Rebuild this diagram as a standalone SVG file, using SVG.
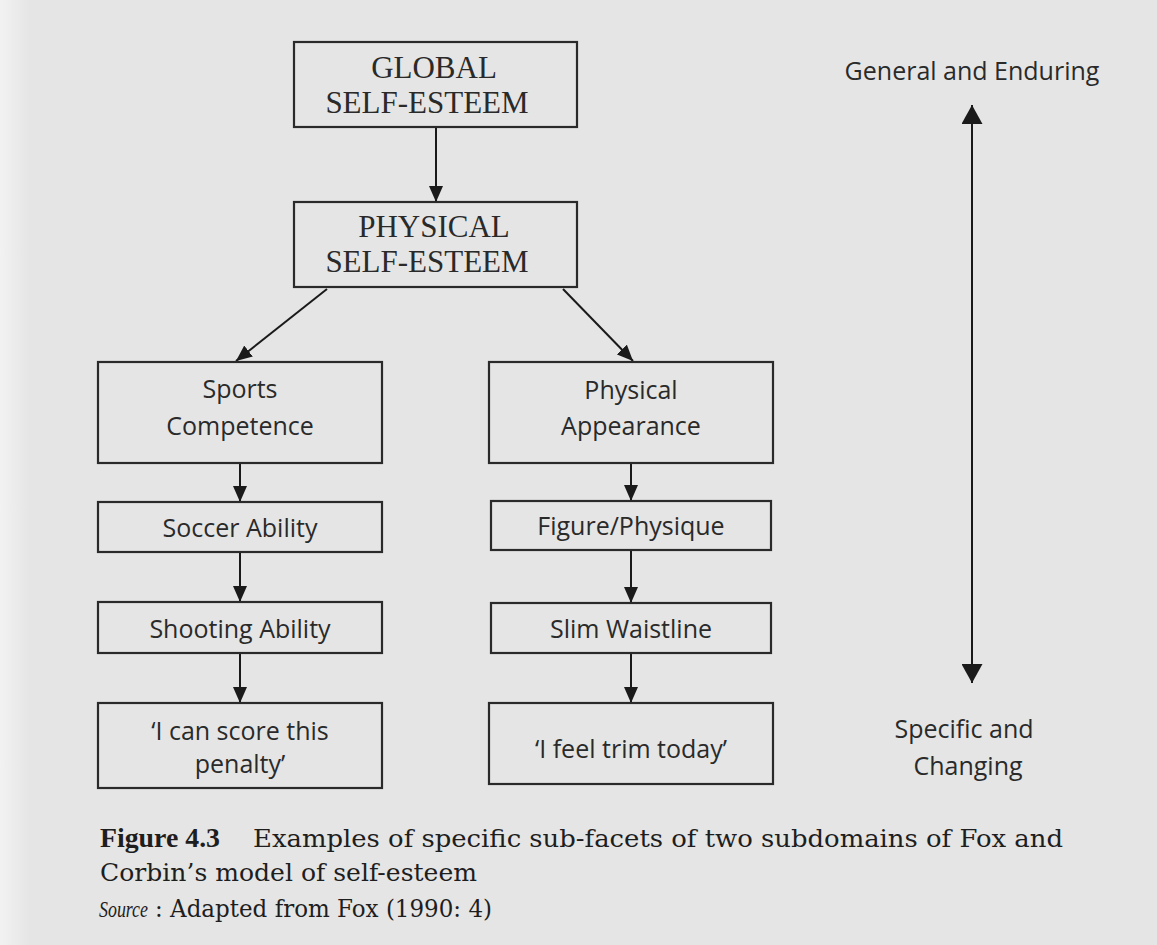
<svg xmlns="http://www.w3.org/2000/svg" width="1157" height="945" viewBox="0 0 1157 945">
<defs>
<marker id="ah" viewBox="0 0 16 14" refX="16" refY="7" markerWidth="16" markerHeight="14" markerUnits="userSpaceOnUse" orient="auto-start-reverse">
<path d="M0,0 L16,7 L0,14 z" fill="#1a1a1a"/>
</marker>
<marker id="big" viewBox="0 0 19 21" refX="19" refY="10.5" markerWidth="19" markerHeight="21" markerUnits="userSpaceOnUse" orient="auto-start-reverse">
<path d="M0,0 L19,10.5 L0,21 z" fill="#1a1a1a"/>
</marker>
<linearGradient id="edge" x1="0" x2="1" y1="0" y2="0">
<stop offset="0" stop-color="#f2f2f2"/>
<stop offset="1" stop-color="#e5e5e5"/>
</linearGradient>
</defs>
<style>
.box{fill:none;stroke:#2a2a2a;stroke-width:2.2}
.ser{font-family:"Liberation Serif","Times New Roman",serif;fill:#2a2a2a;text-anchor:middle;font-size:31px}
.sans{font-family:"Open Sans","Noto Sans",sans-serif;fill:#2a2a2a;text-anchor:middle;font-size:25px}
.con{stroke:#1a1a1a;stroke-width:2;fill:none;marker-end:url(#ah)}
.cap{font-family:"DejaVu Serif","Liberation Serif",serif;fill:#1e1e1e;font-size:25px}
</style>
<rect width="1157" height="945" fill="#e5e5e5"/>
<rect width="30" height="945" fill="url(#edge)"/>
<g id="connectors">
<line class="con" x1="436" y1="127" x2="436" y2="202"/>
<line class="con" x1="327" y1="289" x2="236" y2="361"/>
<line class="con" x1="563" y1="289" x2="633" y2="361"/>
<line class="con" x1="240" y1="463" x2="240" y2="502"/>
<line class="con" x1="240" y1="552" x2="240" y2="602"/>
<line class="con" x1="240" y1="653" x2="240" y2="703"/>
<line class="con" x1="631" y1="463" x2="631" y2="501"/>
<line class="con" x1="631" y1="550" x2="631" y2="603"/>
<line class="con" x1="631" y1="653" x2="631" y2="703"/>
<line x1="972" y1="105" x2="972" y2="683" stroke="#1a1a1a" stroke-width="2" marker-start="url(#big)" marker-end="url(#big)"/>
</g>
<g id="global">
<rect class="box" x="294" y="42" width="283" height="85"/>
<text class="ser" x="434" y="78">GLOBAL</text>
<text class="ser" x="427" y="113">SELF-ESTEEM</text>
</g>
<g id="physical">
<rect class="box" x="294" y="202" width="283" height="85"/>
<text class="ser" x="434" y="237">PHYSICAL</text>
<text class="ser" x="427" y="272">SELF-ESTEEM</text>
</g>
<g id="sports">
<rect class="box" x="98" y="362" width="284" height="101"/>
<text class="sans" x="240" y="398">Sports</text>
<text class="sans" x="240" y="435">Competence</text>
</g>
<g id="soccer">
<rect class="box" x="98" y="502" width="284" height="50"/>
<text class="sans" x="240" y="537">Soccer Ability</text>
</g>
<g id="shooting">
<rect class="box" x="98" y="602" width="284" height="51"/>
<text class="sans" x="240" y="638">Shooting Ability</text>
</g>
<g id="penalty">
<rect class="box" x="98" y="703" width="284" height="85"/>
<text class="sans" x="240" y="740">‘I can score this</text>
<text class="sans" x="240" y="773">penalty’</text>
</g>
<g id="appearance">
<rect class="box" x="489" y="362" width="284" height="101"/>
<text class="sans" x="631" y="399">Physical</text>
<text class="sans" x="631" y="435">Appearance</text>
</g>
<g id="figure">
<rect class="box" x="491" y="501" width="280" height="49"/>
<text class="sans" x="631" y="535">Figure/Physique</text>
</g>
<g id="slim">
<rect class="box" x="491" y="603" width="280" height="50"/>
<text class="sans" x="631" y="638">Slim Waistline</text>
</g>
<g id="trim">
<rect class="box" x="489" y="703" width="284" height="81"/>
<text class="sans" x="631" y="758">‘I feel trim today’</text>
</g>
<g id="scale-labels">
<text class="sans" x="972" y="80">General and Enduring</text>
<text class="sans" x="964" y="738">Specific and</text>
<text class="sans" x="968" y="775">Changing</text>
</g>
<g id="caption">
<text x="100" y="847" font-family="Liberation Serif, serif" font-weight="bold" font-size="28" fill="#1e1e1e" textLength="120" lengthAdjust="spacingAndGlyphs">Figure 4.3</text>
<text class="cap" x="253" y="847" textLength="810" lengthAdjust="spacingAndGlyphs">Examples of specific sub-facets of two subdomains of Fox and</text>
<text class="cap" x="100" y="881" textLength="377" lengthAdjust="spacingAndGlyphs">Corbin’s model of self-esteem</text>
<text x="99" y="917" font-family="Liberation Serif, serif" font-style="italic" font-size="23" fill="#1e1e1e" textLength="49" lengthAdjust="spacingAndGlyphs">Source</text>
<text class="cap" x="155" y="917" font-size="17" textLength="337" lengthAdjust="spacingAndGlyphs">: Adapted from Fox (1990: 4)</text>
</g>
</svg>
